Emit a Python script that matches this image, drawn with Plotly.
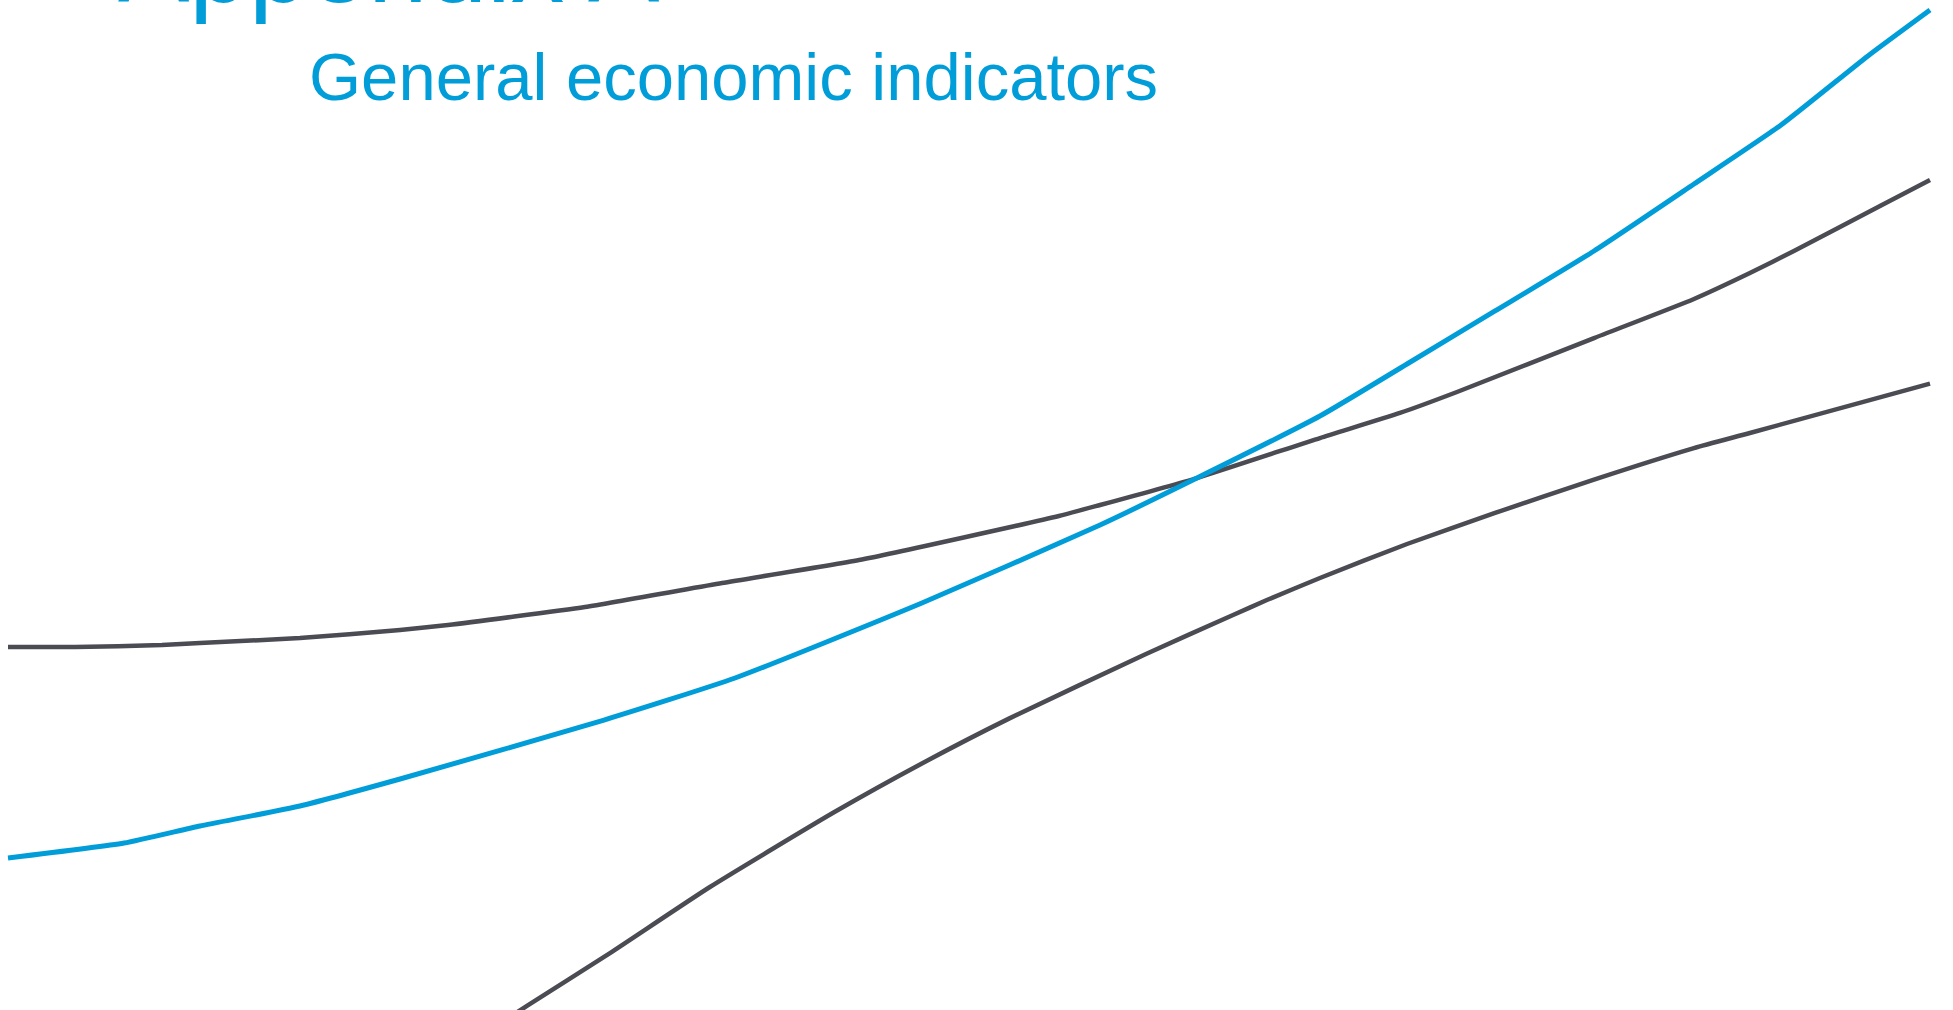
import plotly.graph_objects as go

# Share of the period elapsed (0-100) and index values (0-100)
blue_x = [0, 6.04, 9.99, 15.19, 20.40, 31.01, 37.83, 47.55, 56.82, 61.86, 68.26,
          72.79, 77.37, 82.52, 87.72, 92.25, 96.77, 100]
blue_y = [15.05, 16.53, 18.22, 20.20, 22.87, 28.71, 32.87, 40.30, 48.02, 52.67, 58.81,
          63.96, 69.21, 75.15, 81.78, 87.62, 94.46, 99.01]

upper_x = [0, 3.49, 8.01, 9.99, 15.19, 20.40, 22.89, 30.02, 37.15, 44.28, 54.68, 56.82,
           61.86, 68.26, 72.42, 75.39, 82.52, 87.72, 90.63, 92.92, 97.45, 100]
upper_y = [35.94, 35.94, 36.14, 36.34, 36.83, 37.62, 38.12, 39.90, 42.28, 44.55, 48.91, 50.0,
           52.67, 56.63, 59.11, 61.19, 66.53, 70.40, 72.97, 75.15, 79.65, 82.18]

lower_x = [23.0, 27.00, 31.32, 36.52, 43.00, 47.55, 52.08, 59.21, 63.74, 65.50, 68.26,
           72.79, 77.37, 82.52, 87.72, 90.63, 100]
lower_y = [-4.46, 0.40, 5.64, 12.18, 19.60, 24.41, 28.85, 35.25, 39.11, 40.59, 42.77,
           46.14, 49.21, 52.52, 55.64, 57.13, 62.02]

title_text = "Appendix A"
subtitle_text = "General economic indicators"

BLUE = "#009DD9"
GREY = "#4B4B53"

fig = go.Figure()
fig.add_trace(go.Scatter(x=upper_x, y=upper_y, mode="lines",
                         line=dict(color=GREY, width=4.5, shape="spline", smoothing=0.5),
                         hoverinfo="skip"))
fig.add_trace(go.Scatter(x=lower_x, y=lower_y, mode="lines",
                         line=dict(color=GREY, width=4.5, shape="spline", smoothing=0.5),
                         hoverinfo="skip"))
fig.add_trace(go.Scatter(x=blue_x, y=blue_y, mode="lines",
                         line=dict(color=BLUE, width=5, shape="spline", smoothing=0.5),
                         hoverinfo="skip"))

fig.add_annotation(text=title_text, xref="paper", yref="paper", x=0.0594, y=0.9728,
                   xanchor="left", yanchor="bottom", showarrow=False,
                   font=dict(family="Liberation Sans, Arial, sans-serif", size=107, color=BLUE))
fig.add_annotation(text=subtitle_text, xref="paper", yref="paper", x=0.1572, y=0.8852,
                   xanchor="left", yanchor="bottom", showarrow=False,
                   font=dict(family="Liberation Sans, Arial, sans-serif", size=67, color=BLUE))

fig.update_layout(
    width=1953, height=1010,
    margin=dict(l=0, r=0, t=0, b=0),
    paper_bgcolor="white", plot_bgcolor="white",
    showlegend=False,
    xaxis=dict(range=[-0.416, 101.197], visible=False, showgrid=False, zeroline=False),
    yaxis=dict(range=[0, 100], visible=False, showgrid=False, zeroline=False),
)

fig.write_html("out.html", config={"displayModeBar": False},
               post_script="document.body.style.margin='0';document.body.style.overflow='hidden';")
